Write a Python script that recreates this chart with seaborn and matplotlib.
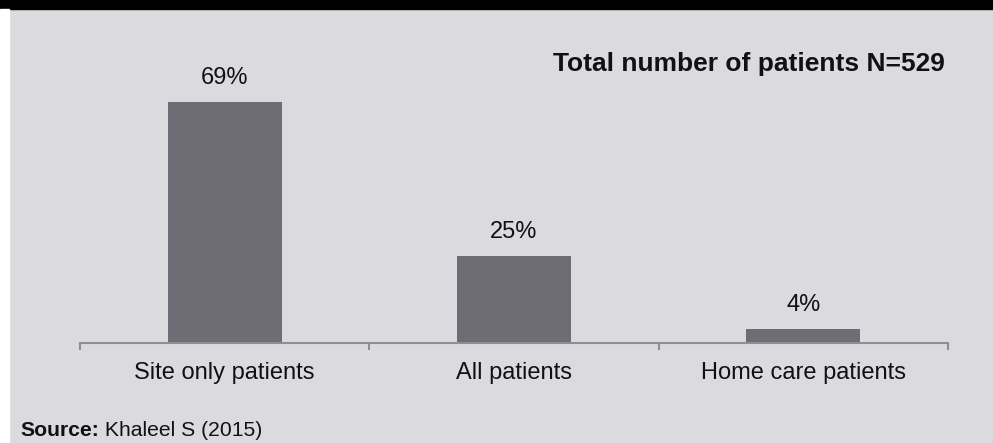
import matplotlib
matplotlib.use("Agg")
import matplotlib.pyplot as plt
import seaborn as sns
import pandas as pd

categories = ["Site only patients", "All patients", "Home care patients"]
shares = [69, 25, 4]
value_labels = ["69%", "25%", "4%"]
title_text = "Total number of patients N=529"
source_bold = "Source:"
source_rest = " Khaleel S (2015)"

BG = "#dbdadf"
BAR = "#6e6d76"
AXIS = "#8f8f93"
INK = "#111111"

sns.set_theme(style="white")
plt.rcParams["font.family"] = ["Liberation Sans", "DejaVu Sans"]

fig = plt.figure(figsize=(9.93, 4.43), dpi=100)
fig.patch.set_facecolor(BG)

W, H = 993, 443
PT = 72 / 100  # points per pixel at 100 dpi

# black band at the top and thin white margin on the left
fig.add_artist(plt.Rectangle((0, 1 - 9 / H), 1, 9 / H, transform=fig.transFigure,
                             color="black", zorder=0))
fig.add_artist(plt.Rectangle((0, 0), 9 / W, 1 - 9 / H, transform=fig.transFigure,
                             color="white", zorder=0))

ax = fig.add_axes([80 / W, 100 / H, 868 / W, 323 / H])
ax.set_facecolor(BG)

df = pd.DataFrame({"category": categories, "share": shares})
sns.barplot(data=df, x="category", y="share", color=BAR, width=0.394,
            saturation=1, edgecolor="none", linewidth=0, ax=ax)

ax.set_xlim(-0.5, 2.5)
ax.set_ylim(0, 92.3)
ax.set_xlabel("")
ax.set_ylabel("")
ax.set_yticks([])
for side in ("top", "right", "left"):
    ax.spines[side].set_visible(False)
ax.spines["bottom"].set_color(AXIS)
ax.spines["bottom"].set_linewidth(1.5)

# boundary ticks between categories, labels at the bar centres
ax.set_xticks([-0.5, 0.5, 1.5, 2.5])
ax.set_xticklabels([])
ax.tick_params(axis="x", which="major", direction="out", length=5,
               width=1.5, color=AXIS, bottom=True)
ax.set_xticks(range(len(categories)), minor=True)
ax.set_xticklabels(categories, minor=True, fontsize=17, color=INK)
ax.tick_params(axis="x", which="minor", length=0, pad=36 * PT)
for lab in ax.get_xticklabels(minor=True):
    lab.set_verticalalignment("baseline")

for i, (v, lab) in enumerate(zip(shares, value_labels)):
    ax.annotate(lab, (i, v), xytext=(0, 17.7 * PT), textcoords="offset points",
                ha="center", va="baseline", fontsize=17, color=INK)

fig.text(945 / W, 1 - 70.5 / H, title_text, ha="right", va="baseline",
         fontsize=19, fontweight="bold", color=INK)

t = fig.text(20 / W, 1 - 436 / H, source_bold, ha="left", va="baseline",
             fontsize=15.2, fontweight="bold", color=INK)
fig.canvas.draw()
bb = t.get_window_extent()
fig.text(bb.x1 / W, 1 - 436 / H, source_rest, ha="left", va="baseline",
         fontsize=15.2, color=INK)

fig.savefig("out.png", dpi=100, facecolor=BG)
